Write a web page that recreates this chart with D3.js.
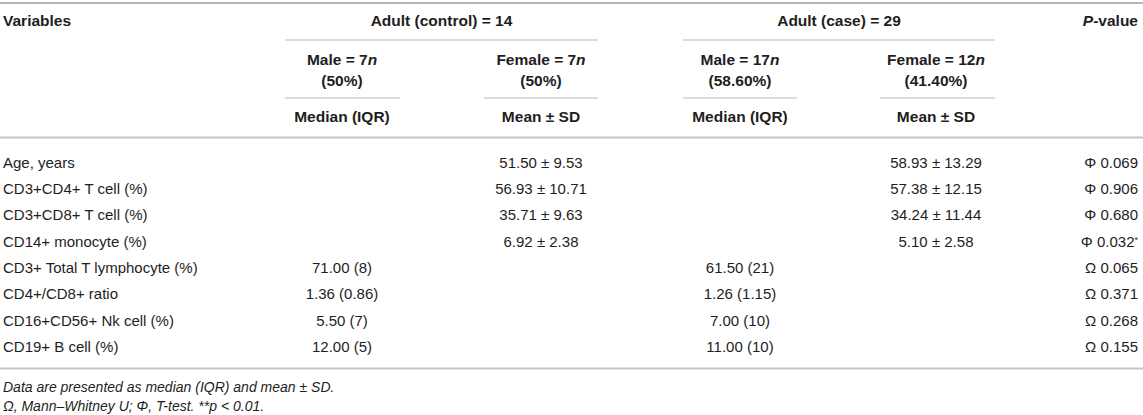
<!DOCTYPE html>
<html><head><meta charset="utf-8">
<script src="https://cdn.jsdelivr.net/npm/d3@7"></script>
<style>
html,body{margin:0;padding:0;background:#fff;}
svg{display:block;font-family:"Liberation Sans",Arial,sans-serif;}
</style></head>
<body><svg id="t" width="1143" height="415"></svg>
<script>
// ---- data ----
const variables = ["Age, years","CD3+CD4+ T cell (%)","CD3+CD8+ T cell (%)","CD14+ monocyte (%)",
  "CD3+ Total T lymphocyte (%)","CD4+/CD8+ ratio","CD16+CD56+ Nk cell (%)","CD19+ B cell (%)"];
const controlMaleMedianIQR = [null,null,null,null,"71.00 (8)","1.36 (0.86)","5.50 (7)","12.00 (5)"];
const controlFemaleMeanSD  = ["51.50 ± 9.53","56.93 ± 10.71","35.71 ± 9.63","6.92 ± 2.38",null,null,null,null];
const caseMaleMedianIQR    = [null,null,null,null,"61.50 (21)","1.26 (1.15)","7.00 (10)","11.00 (10)"];
const caseFemaleMeanSD     = ["58.93 ± 13.29","57.38 ± 12.15","34.24 ± 11.44","5.10 ± 2.58",null,null,null,null];
const testSymbol = ["Φ","Φ","Φ","Φ","Ω","Ω","Ω","Ω"];
const pValues    = ["0.069","0.906","0.680","0.032","0.065","0.371","0.268","0.155"];
const pMark      = ["","","","*","","","",""];
const groupHeaders = [{label:"Adult (control) = 14", cols:["cm","cf"]},{label:"Adult (case) = 29", cols:["km","kf"]}];
const subHeaders = [
  {col:"cm", a:"Male = ", n:"7", b:"(50%)", stat:"Median (IQR)"},
  {col:"cf", a:"Female = ", n:"7", b:"(50%)", stat:"Mean ± SD"},
  {col:"km", a:"Male = ", n:"17", b:"(58.60%)", stat:"Median (IQR)"},
  {col:"kf", a:"Female = ", n:"12", b:"(41.40%)", stat:"Mean ± SD"}
];
const footnotes = ["Data are presented as median (IQR) and mean ± SD.","Ω, Mann–Whitney U; Φ, T-test. **p < 0.01."];

// ---- layout ----
const W = 1143;
const colKeys = ["cm","cf","km","kf"];
const colCenter = d3.scaleOrdinal().domain(colKeys).range([342, 541, 740, 936]);
const colSpan = {cm:[285,400], cf:[484,598], km:[683,797], kf:[880,995]};
const y = d3.scalePoint().domain(variables).range([162.5, 346.8]);
const textColor = "#1e1e1e";
const fs = 15, hfs = 15.5, ffs = 14;

const svg = d3.select("#t");
function hline(x1,x2,yy,w,c){svg.append("line").attr("x1",x1).attr("x2",x2).attr("y1",yy).attr("y2",yy)
  .attr("stroke",c).attr("stroke-width",w);}

hline(0,W,3,2,"#b5b5b5");
hline(0,W,137.5,2,"#c4c4c4");
hline(0,W,368.5,2,"#c4c4c4");

// header row 1
svg.append("text").attr("x",3).attr("y",20.5).attr("dy","0.35em").attr("font-size",hfs).attr("font-weight","bold")
  .attr("fill",textColor).text("Variables");
const pv = svg.append("text").attr("x",1138).attr("y",20.5).attr("dy","0.35em").attr("font-size",hfs).attr("font-weight","bold")
  .attr("fill",textColor).attr("text-anchor","end");
pv.append("tspan").attr("font-style","italic").text("P");
pv.append("tspan").text("-value");

groupHeaders.forEach(g=>{
  const x1 = colSpan[g.cols[0]][0], x2 = colSpan[g.cols[1]][1];
  svg.append("text").attr("x",(x1+x2)/2).attr("y",20.5).attr("dy","0.35em").attr("font-size",hfs).attr("font-weight","bold")
    .attr("fill",textColor).attr("text-anchor","middle").text(g.label);
  hline(x1,x2,40,1.5,"#cfcfcf");
});

subHeaders.forEach(s=>{
  const cx = colCenter(s.col);
  const t = svg.append("text").attr("x",cx).attr("y",60).attr("dy","0.35em").attr("font-size",hfs).attr("font-weight","bold")
    .attr("fill",textColor).attr("text-anchor","middle");
  t.append("tspan").text(s.a + s.n);
  t.append("tspan").attr("font-style","italic").text("n");
  svg.append("text").attr("x",cx).attr("y",81).attr("dy","0.35em").attr("font-size",hfs).attr("font-weight","bold")
    .attr("fill",textColor).attr("text-anchor","middle").text(s.b);
  hline(colSpan[s.col][0],colSpan[s.col][1],98,1.5,"#cfcfcf");
  svg.append("text").attr("x",cx).attr("y",117).attr("dy","0.35em").attr("font-size",hfs).attr("font-weight","bold")
    .attr("fill",textColor).attr("text-anchor","middle").text(s.stat);
});

// body
const rows = svg.append("g").selectAll("g").data(variables).join("g")
  .attr("transform",d=>`translate(0,${y(d)})`);
rows.append("text").attr("x",3).attr("dy","0.35em").attr("font-size",fs).attr("fill",textColor).text(d=>d);
const cols = {cm:controlMaleMedianIQR, cf:controlFemaleMeanSD, km:caseMaleMedianIQR, kf:caseFemaleMeanSD};
colKeys.forEach(k=>{
  rows.append("text").attr("x",colCenter(k)).attr("dy","0.35em").attr("font-size",fs).attr("fill",textColor)
    .attr("text-anchor","middle").text((d,i)=>cols[k][i]||"");
});
const pt = rows.append("text").attr("x",1138).attr("dy","0.35em").attr("font-size",fs).attr("fill",textColor)
  .attr("text-anchor","end");
pt.append("tspan").text((d,i)=>testSymbol[i]+" "+pValues[i]);
pt.append("tspan").attr("font-size",9).attr("dy","-0.45em").text((d,i)=>pMark[i]);

// footnotes
svg.append("text").attr("x",3).attr("y",387).attr("dy","0.35em").attr("font-size",ffs).attr("font-style","italic")
  .attr("fill",textColor).text(footnotes[0]);
svg.append("text").attr("x",3).attr("y",406).attr("dy","0.35em").attr("font-size",ffs).attr("font-style","italic")
  .attr("fill",textColor).text(footnotes[1]);
</script></body></html>
